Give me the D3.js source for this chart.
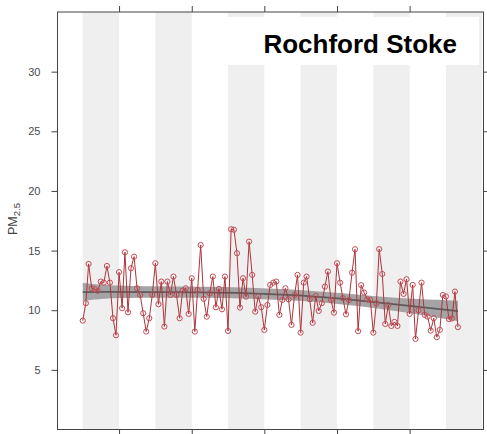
<!DOCTYPE html>
<html>
<head>
<meta charset="utf-8">
<script src="https://cdn.jsdelivr.net/npm/d3@7"></script>
<style>
  html, body { margin: 0; padding: 0; background: #ffffff; }
  svg { display: block; }
  text { font-family: "Liberation Sans", Arial, Helvetica, sans-serif; }
</style>
</head>
<body>
<svg id="chart" width="487" height="434"></svg>
<script>
// Monthly mean PM2.5 at Rochford Stoke, first value January 1998
const siteName = "Rochford Stoke";
const firstYear = 1998;
const pm25 = [
  9.13, 10.59, 13.88, 11.84, 11.76, 11.62, 12.40, 12.31, 13.71, 12.31, 9.33, 7.90,
  13.19, 10.17, 14.86, 9.83, 13.52, 14.49, 11.84, 11.28, 9.75, 8.21, 9.33, 11.28,
  13.94, 10.50, 12.40, 8.63, 12.40, 11.28, 12.82, 11.28, 9.33, 11.64, 11.84, 9.69,
  12.68, 8.21, 11.70, 15.47, 10.95, 9.46, 11.42, 12.82, 10.25, 11.79, 10.08, 12.82,
  8.26, 16.79, 16.75, 14.78, 10.22, 12.68, 11.14, 15.75, 12.96, 9.88, 11.14, 10.25,
  8.35, 10.44, 12.12, 12.31, 12.40, 9.61, 10.86, 11.84, 10.92, 8.77, 11.28, 12.96,
  8.12, 12.31, 12.82, 10.92, 8.94, 11.20, 9.94, 10.59, 11.98, 13.24, 10.86, 9.80,
  13.94, 12.31, 11.01, 9.66, 10.86, 13.15, 15.11, 8.24, 12.10, 11.48, 10.91, 10.86,
  8.12, 10.59, 15.12, 13.04, 8.85, 10.44, 8.68, 9.02, 8.68, 12.40, 11.37, 12.60,
  9.69, 12.12, 7.59, 10.00, 12.31, 9.61, 9.46, 8.29, 9.33, 7.74, 8.35, 11.28,
  11.16, 9.25, 9.31, 11.56, 8.58
];

// Smooth trend with its uncertainty band, given at selected months (index from the first month)
const trendMonth = [0, 6, 22, 39, 55, 72, 85, 98, 111, 124];
const trendFit   = [11.52, 11.54, 11.52, 11.50, 11.44, 11.26, 10.98, 10.64, 10.29, 9.93];
const trendLower = [10.78, 11.00, 11.04, 11.06, 10.98, 10.80, 10.52, 10.14, 9.66, 9.08];
const trendUpper = [12.30, 12.10, 12.00, 11.96, 11.90, 11.72, 11.44, 11.14, 10.92, 10.80];

// Axis ticks
const yTicks = [5, 10, 15, 20, 25, 30];
const xTickYears = [1999, 2001, 2003, 2005, 2007];
const shadedYears = [1998, 2000, 2002, 2004, 2006, 2008];

(function drawChart() {
  const svg = d3.select("#chart");
  const plotLeft = 57.5, plotRight = 483.5, plotTop = 12, plotBottom = 429.5;

  const monthDate = i => new Date(firstYear, i, 1);

  const x = d3.scaleTime()
    .domain([new Date(1997, 3, 22), new Date(2009, 0, 13)])
    .range([plotLeft, plotRight]);
  const y = d3.scaleLinear().domain([0, 35]).range([plotBottom, plotTop]);

  svg.append("defs").append("clipPath").attr("id", "plotClip")
    .append("rect").attr("x", plotLeft).attr("y", plotTop)
    .attr("width", plotRight - plotLeft).attr("height", plotBottom - plotTop);

  const plot = svg.append("g").attr("clip-path", "url(#plotClip)");

  // alternating year shading
  plot.append("g").selectAll("rect")
    .data(shadedYears)
    .join("rect")
    .attr("x", d => x(new Date(d, 0, 1)))
    .attr("width", d => x(new Date(d + 1, 0, 1)) - x(new Date(d, 0, 1)))
    .attr("y", plotTop)
    .attr("height", plotBottom - plotTop)
    .attr("fill", "#efefef");

  // trend uncertainty band and fitted line
  const trendData = trendMonth.map((m, k) => ({
    date: monthDate(m), fit: trendFit[k], lo: trendLower[k], hi: trendUpper[k]
  }));

  plot.append("path")
    .datum(trendData)
    .attr("fill", "#a4a4a4")
    .attr("d", d3.area()
      .x(d => x(d.date))
      .y0(d => y(d.lo))
      .y1(d => y(d.hi))
      .curve(d3.curveBasis));

  plot.append("path")
    .datum(trendData)
    .attr("fill", "none")
    .attr("stroke", "#5c5c5c")
    .attr("stroke-width", 1.8)
    .attr("d", d3.line()
      .x(d => x(d.date))
      .y(d => y(d.fit))
      .curve(d3.curveBasis));

  // monthly series
  const series = pm25.map((v, i) => ({ date: monthDate(i), value: v }));

  plot.append("path")
    .datum(series)
    .attr("fill", "none")
    .attr("stroke", "#ad343b")
    .attr("stroke-width", 1)
    .attr("d", d3.line().x(d => x(d.date)).y(d => y(d.value)));

  plot.append("g").selectAll("circle")
    .data(series)
    .join("circle")
    .attr("cx", d => x(d.date))
    .attr("cy", d => y(d.value))
    .attr("r", 2.6)
    .attr("fill", "none")
    .attr("stroke", "#c44a55")
    .attr("stroke-width", 1);

  // site label
  svg.append("rect")
    .attr("x", 205).attr("y", 17)
    .attr("width", 274).attr("height", 48)
    .attr("fill", "#ffffff");
  svg.append("text")
    .attr("x", 457).attr("y", 53)
    .attr("text-anchor", "end")
    .attr("font-size", 26)
    .attr("font-weight", "bold")
    .attr("fill", "#000000")
    .text(siteName);

  // axes
  const xTickDates = xTickYears.map(yr => new Date(yr, 0, 1));

  const yAxisLeft = svg.append("g")
    .attr("transform", `translate(${plotLeft},0)`)
    .call(d3.axisLeft(y).tickValues(yTicks).tickSize(6).tickSizeOuter(0).tickPadding(11));
  const yAxisRight = svg.append("g")
    .attr("transform", `translate(${plotRight},0)`)
    .call(d3.axisRight(y).tickValues(yTicks).tickSize(4).tickSizeOuter(0).tickFormat(""));
  const xAxisBottom = svg.append("g")
    .attr("transform", `translate(0,${plotBottom})`)
    .call(d3.axisBottom(x).tickValues(xTickDates).tickSize(6).tickSizeOuter(0).tickFormat(""));
  const xAxisTop = svg.append("g")
    .attr("transform", `translate(0,${plotTop})`)
    .call(d3.axisTop(x).tickValues(xTickDates).tickSize(6).tickSizeOuter(0).tickFormat(""));

  [yAxisLeft, yAxisRight, xAxisBottom, xAxisTop].forEach(g => {
    g.select(".domain").remove();
    g.selectAll(".tick line").attr("stroke", "#444");
  });
  yAxisLeft.selectAll(".tick text")
    .attr("font-size", 11)
    .attr("fill", "#4a4a4a")
    .attr("font-family", "'Liberation Sans', Arial, sans-serif");

  // plot frame
  svg.append("rect")
    .attr("x", plotLeft).attr("y", plotTop)
    .attr("width", plotRight - plotLeft).attr("height", plotBottom - plotTop)
    .attr("fill", "none")
    .attr("stroke", "#444")
    .attr("stroke-width", 1);

  // y axis title with subscript
  const yTitle = svg.append("text")
    .attr("transform", "translate(17,219) rotate(-90)")
    .attr("text-anchor", "middle")
    .attr("fill", "#444")
    .attr("font-size", 12.5);
  yTitle.append("tspan").text("PM");
  yTitle.append("tspan").attr("font-size", 9.5).attr("dy", 3).text("2.5");
})();
</script>
</body>
</html>
